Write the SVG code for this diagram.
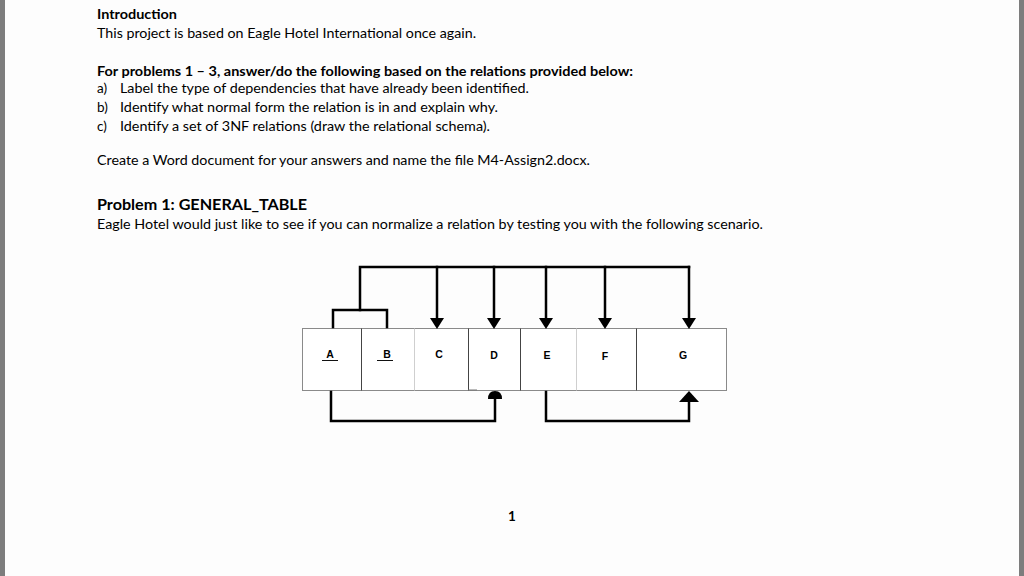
<svg xmlns="http://www.w3.org/2000/svg" width="1024" height="576" viewBox="0 0 1024 576">
  <style>
    .body { font-family: Lato, "Open Sans", "Liberation Sans", sans-serif; font-size: 13.5px; fill: #000; }
    .bold { font-weight: bold; }
    .head { font-family: Lato, "Open Sans", "Liberation Sans", sans-serif; font-size: 16px; font-weight: bold; fill: #000; }
    .cell { fill: #ffffff; stroke: #8a8a8a; stroke-width: 1; }
    .div-dark { stroke: #444; stroke-width: 1; }
    .div-light { stroke: #cfcfcf; stroke-width: 1; }
    .lbl { font-family: "Liberation Sans", Arial, sans-serif; font-size: 10.5px; font-weight: bold; fill: #000; text-anchor: middle; }
    .wire { fill: none; stroke: #000; stroke-width: 2.5; stroke-linecap: square; stroke-linejoin: miter; }
    .head-fill { fill: #000; stroke: none; }
    .ul { stroke: #111; stroke-width: 1; }
  </style>

  <rect x="0" y="0" width="1024" height="576" fill="#fdfdfd"/>
  <rect x="0" y="0" width="5" height="576" fill="#7d7d7d"/>
  <rect x="1019" y="0" width="5" height="576" fill="#7d7d7d"/>

  <g id="text">
    <text class="body bold" x="97" y="19" textLength="80" lengthAdjust="spacingAndGlyphs">Introduction</text>
    <text class="body" x="97" y="38" textLength="379" lengthAdjust="spacingAndGlyphs">This project is based on Eagle Hotel International once again.</text>
    <text class="body bold" x="97" y="76" textLength="536" lengthAdjust="spacingAndGlyphs">For problems 1 – 3, answer/do the following based on the relations provided below:</text>
    <text class="body" x="97" y="93">a)</text>
    <text class="body" x="120" y="93" textLength="409" lengthAdjust="spacingAndGlyphs">Label the type of dependencies that have already been identified.</text>
    <text class="body" x="97" y="112">b)</text>
    <text class="body" x="120" y="112" textLength="378" lengthAdjust="spacingAndGlyphs">Identify what normal form the relation is in and explain why.</text>
    <text class="body" x="97" y="131">c)</text>
    <text class="body" x="120" y="131" textLength="370" lengthAdjust="spacingAndGlyphs">Identify a set of 3NF relations (draw the relational schema).</text>
    <text class="body" x="97" y="165" textLength="493" lengthAdjust="spacingAndGlyphs">Create a Word document for your answers and name the file M4-Assign2.docx.</text>
    <text class="head" x="97" y="210" textLength="210" lengthAdjust="spacingAndGlyphs">Problem 1: GENERAL_TABLE</text>
    <text class="body" x="97" y="229" textLength="666" lengthAdjust="spacingAndGlyphs">Eagle Hotel would just like to see if you can normalize a relation by testing you with the following scenario.</text>
    <text class="body bold" x="512" y="521" text-anchor="middle">1</text>
  </g>

  <g id="table">
    <rect class="cell" x="302.5" y="328.5" width="424" height="62"/>
    <line class="div-dark" x1="361.5" y1="328.5" x2="361.5" y2="390.5"/>
    <line class="div-light" x1="414.5" y1="328.5" x2="414.5" y2="390.5"/>
    <line class="div-dark" x1="468.5" y1="328.5" x2="468.5" y2="390.5"/>
    <line class="div-dark" x1="520.5" y1="328.5" x2="520.5" y2="390.5"/>
    <line class="div-light" x1="576.5" y1="328.5" x2="576.5" y2="390.5"/>
    <line class="div-dark" x1="636.5" y1="328.5" x2="636.5" y2="390.5"/>
    <line x1="468" y1="390" x2="477" y2="390" stroke="#777" stroke-width="1"/>
  </g>

  <g id="node-A">
    <text class="lbl" x="330" y="358">A</text>
    <line class="ul" x1="322" y1="360.5" x2="338" y2="360.5"/>
  </g>
  <g id="node-B">
    <text class="lbl" x="387" y="358">B</text>
    <line class="ul" x1="377" y1="360.5" x2="393" y2="360.5"/>
  </g>
  <g id="node-C"><text class="lbl" x="439" y="358">C</text></g>
  <g id="node-D"><text class="lbl" x="494" y="359">D</text></g>
  <g id="node-E"><text class="lbl" x="547" y="359">E</text></g>
  <g id="node-F"><text class="lbl" x="605" y="360">F</text></g>
  <g id="node-G"><text class="lbl" x="683" y="359">G</text></g>

  <g id="connectors">
    <polyline class="wire" points="333,327 333,310 387,310 387,327"/>
    <polyline class="wire" points="360,310 360,267 689,267"/>
    <line class="wire" x1="437" y1="267" x2="437" y2="320"/>
    <line class="wire" x1="494" y1="267" x2="494" y2="320"/>
    <line class="wire" x1="546" y1="267" x2="546" y2="320"/>
    <line class="wire" x1="605" y1="267" x2="605" y2="320"/>
    <line class="wire" x1="689" y1="267" x2="689" y2="320"/>
    <path class="head-fill" d="M430,318 L444,318 L437,329 Z"/>
    <path class="head-fill" d="M487,318 L501,318 L494,329 Z"/>
    <path class="head-fill" d="M539,318 L553,318 L546,329 Z"/>
    <path class="head-fill" d="M598,318 L612,318 L605,329 Z"/>
    <path class="head-fill" d="M682,318 L696,318 L689,329 Z"/>
    <polyline class="wire" points="331,392 331,421 495,421 495,398"/>
    <path class="head-fill" d="M488,399 Q488,391 495,391 Q502,391 502,399 Z"/>
    <polyline class="wire" points="546,392 546,421 689,421 689,402"/>
    <path class="head-fill" d="M679,402 L699,402 L689,391 Z"/>
  </g>
</svg>
